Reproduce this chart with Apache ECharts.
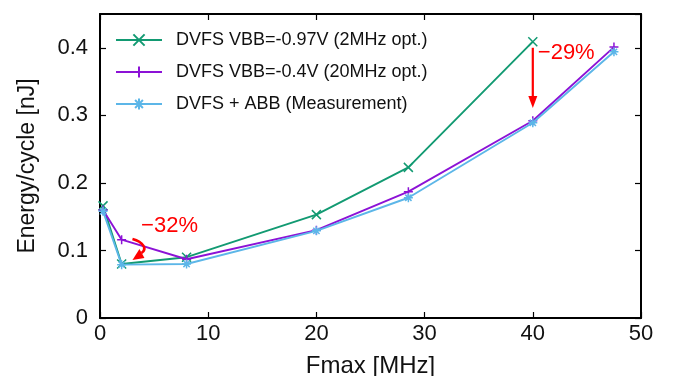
<!DOCTYPE html>
<html><head><meta charset="utf-8">
<script src="https://cdn.jsdelivr.net/npm/echarts@6/dist/echarts.min.js"></script>
<style>html,body{margin:0;padding:0;background:#fff}#c{width:675px;height:376px}</style>
</head><body><div id="c"></div>
<script>
const fmaxVbb097 = [0.28, 2, 8, 20, 28.5, 40];
const energyVbb097 = [0.166, 0.080, 0.090, 0.153, 0.223, 0.409];
const fmaxVbb04 = [0.28, 2, 8, 20, 28.5, 40, 47.5];
const energyVbb04 = [0.160, 0.116, 0.087, 0.130, 0.187, 0.292, 0.401];
const fmaxAbb = [0.28, 2, 8, 20, 28.5, 40, 47.5];
const energyAbb = [0.158, 0.079, 0.080, 0.129, 0.178, 0.289, 0.394];
const seriesNames = ['DVFS VBB=-0.97V (2MHz opt.)', 'DVFS VBB=-0.4V (20MHz opt.)', 'DVFS + ABB (Measurement)'];
const xTicks = [0, 10, 20, 30, 40, 50];
const yTicks = [0, 0.1, 0.2, 0.3, 0.4];

const cGreen = '#129a72', cPurple = '#8c12d6', cBlue = '#5cb6e8';
const symX = 'path://M0,0L10,10M10,0L0,10';
const symPlus = 'path://M5,0L5,10M0,5L10,5';
const symStar = 'path://M5,0L5,10M0,5L10,5M1.5,1.5L8.5,8.5M8.5,1.5L1.5,8.5';
const zip = (a, b) => a.map((v, i) => [v, b[i]]);
const font = 'Liberation Sans, Arial, sans-serif';

function mk(name, data, color, sym, z) {
  return {
    name, type: 'line', data, symbol: sym, symbolSize: 9, showSymbol: true, z,
    lineStyle: { color, width: 1.9 },
    itemStyle: { color, borderColor: color, borderWidth: 1.5 },
    emphasis: { disabled: true }, animation: false
  };
}

const chart = echarts.init(document.getElementById('c'), null, { renderer: 'canvas' });
const axisCommon = () => ({
  axisLine: { show: true, onZero: false, lineStyle: { color: '#000', width: 2 } },
  axisTick: { show: true, inside: true, length: 6, lineStyle: { color: '#000', width: 1.2 } },
  splitLine: { show: false }
});
chart.setOption({
  animation: false,
  grid: { left: 100, right: 34, top: 14, bottom: 58, containLabel: false, outerBoundsMode: 'none' },
  legend: {
    left: 115, top: 31, orient: 'vertical', itemGap: 14, itemWidth: 46, itemHeight: 14, padding: 0,
    textStyle: { fontFamily: font, fontSize: 18, color: '#111', padding: [0, 0, 0, 9] },
    data: seriesNames
  },
  xAxis: [
    Object.assign({ type: 'value', min: xTicks[0], max: xTicks[xTicks.length - 1], interval: 10,
      name: 'Fmax [MHz]', nameLocation: 'middle', nameGap: 36,
      nameTextStyle: { fontFamily: font, fontSize: 24, color: '#111' },
      axisLabel: { fontFamily: font, fontSize: 22, color: '#111', margin: 5 } }, axisCommon()),
    Object.assign({ type: 'value', position: 'top', min: 0, max: 50, interval: 10,
      axisLabel: { show: false } }, axisCommon())
  ],
  yAxis: [
    Object.assign({ type: 'value', min: 0, max: 0.45, interval: 0.1,
      name: 'Energy/cycle [nJ]', nameLocation: 'middle', nameGap: 61,
      nameTextStyle: { fontFamily: font, fontSize: 23, color: '#111' },
      axisLabel: { fontFamily: font, fontSize: 22, color: '#111', margin: 12, showMaxLabel: false,
        formatter: v => yTicks.some(t => Math.abs(t - v) < 1e-9) ? String(+v.toFixed(1)) : '' } }, axisCommon()),
    Object.assign({ type: 'value', position: 'right', min: 0, max: 0.45, interval: 0.1,
      axisLabel: { show: false } }, axisCommon())
  ],
  series: [
    mk(seriesNames[0], zip(fmaxVbb097, energyVbb097), cGreen, symX, 3),
    mk(seriesNames[1], zip(fmaxVbb04, energyVbb04), cPurple, symPlus, 4),
    mk(seriesNames[2], zip(fmaxAbb, energyAbb), cBlue, symStar, 5)
  ]
});

// annotations positioned through the axes
const P = (x, y) => chart.convertToPixel({ gridIndex: 0 }, [x, y]);
const a0 = P(40, 0.400), a1 = P(40, 0.311);
const t29 = P(40, 0.393);
const s = P(3, 0.117);
const [sx, sy] = s;
const t32 = P(3.8, 0.137);
chart.setOption({
  graphic: [
    { type: 'line', shape: { x1: a0[0], y1: a0[1], x2: a1[0], y2: a1[1] - 10 }, style: { stroke: '#ff0000', lineWidth: 2.2 }, z: 10 },
    { type: 'polygon', shape: { points: [[a1[0] - 4.5, a1[1] - 12], [a1[0] + 4.5, a1[1] - 12], [a1[0], a1[1]]] }, style: { fill: '#ff0000' }, z: 10 },
    { type: 'text', x: t29[0] + 5, y: t29[1], style: { text: '\u221229%', fill: '#ff0000', font: '22px ' + font, verticalAlign: 'middle' }, z: 10 },
    { type: 'bezierCurve', shape: { x1: sx, y1: sy, cpx1: sx + 11, cpy1: sy + 3, cpx2: sx + 15, cpy2: sy + 10, x2: sx + 9, y2: sy + 14 }, style: { stroke: '#ff0000', lineWidth: 2.6, fill: null }, z: 10 },
    { type: 'polygon', shape: { points: [[sx, sy + 21], [sx + 7, sy + 10], [sx + 12, sy + 19]] }, style: { fill: '#ff0000' }, z: 10 },
    { type: 'text', x: t32[0], y: t32[1], style: { text: '\u221232%', fill: '#ff0000', font: '22px ' + font, verticalAlign: 'middle' }, z: 10 }
  ]
});
</script></body></html>
